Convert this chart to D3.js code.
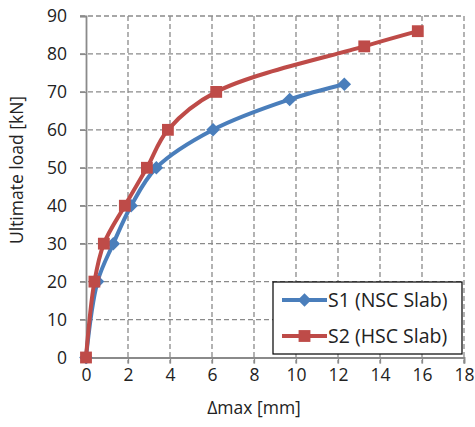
<!DOCTYPE html>
<html>
<head>
<meta charset="utf-8">
<script src="https://cdn.jsdelivr.net/npm/d3@7"></script>
<style>
  body { margin: 0; background: #fff; }
  text { font-family: "Open Sans", "Liberation Sans", sans-serif; fill: #222; }
</style>
</head>
<body>
<div id="chart"></div>
<script>
// data
var seriesNames = ['S1 (NSC Slab)', 'S2 (HSC Slab)'];
var s1Deflection = [0, 0.55, 1.3, 2.15, 3.35, 6.05, 9.7, 12.3];
var s1Load       = [0, 20, 30, 40, 50, 60, 68, 72];
var s2Deflection = [0, 0.4, 0.85, 1.85, 2.9, 3.9, 6.2, 13.25, 15.8];
var s2Load       = [0, 20, 30, 40, 50, 60, 70, 82, 86];
var xTicks = [0, 2, 4, 6, 8, 10, 12, 14, 16, 18];
var yTicks = [0, 10, 20, 30, 40, 50, 60, 70, 80, 90];

var W = 475, H = 427;
var margin = {left: 86, right: 11, top: 16, bottom: 70};
var gridColor = '#8a8a8a';
var fontSize = '17.5px';

var svg = d3.select('#chart').append('svg')
    .attr('width', W).attr('height', H);

var x = d3.scaleLinear().domain([0, 18]).range([margin.left, W - margin.right]);
var y = d3.scaleLinear().domain([0, 90]).range([H - margin.bottom + 0.5, margin.top]);

// dashed grid
svg.append('g').selectAll('line.v')
    .data(xTicks.filter(function(d){ return d > 0; })).enter()
    .append('line')
    .attr('x1', function(d){ return x(d); }).attr('x2', function(d){ return x(d); })
    .attr('y1', y(90)).attr('y2', y(0) + 6)
    .attr('stroke', gridColor).attr('stroke-width', 1.3)
    .attr('stroke-dasharray', '5,3');
svg.append('g').selectAll('line.h')
    .data(yTicks.filter(function(d){ return d > 0; })).enter()
    .append('line')
    .attr('x1', x(0) - 6).attr('x2', x(18))
    .attr('y1', function(d){ return y(d); }).attr('y2', function(d){ return y(d); })
    .attr('stroke', gridColor).attr('stroke-width', 1.3)
    .attr('stroke-dasharray', '5,3');

// axes
var xAxis = svg.append('g')
    .attr('transform', 'translate(0,' + y(0) + ')')
    .call(d3.axisBottom(x).tickValues(xTicks).tickSize(6).tickPadding(17));
var yAxis = svg.append('g')
    .attr('transform', 'translate(' + x(0) + ',0)')
    .call(d3.axisLeft(y).tickValues(yTicks).tickSize(6).tickPadding(13));
[xAxis, yAxis].forEach(function(a){
    a.select('.domain').attr('stroke', gridColor).attr('stroke-width', 1.8);
    a.selectAll('.tick line').attr('stroke', gridColor).attr('stroke-width', 1.3);
    a.selectAll('.tick text').style('font-size', fontSize)
        .style('font-family', '"Open Sans", "Liberation Sans", sans-serif').attr('fill', '#222');
});
xAxis.selectAll('.tick text').attr('dy', '0');

// axis titles
svg.append('text')
    .attr('x', 254).attr('y', 414)
    .attr('text-anchor', 'middle').style('font-size', fontSize)
    .text('Δmax [mm]');
svg.append('text')
    .attr('transform', 'translate(23,170) rotate(-90)')
    .attr('text-anchor', 'middle').style('font-size', fontSize)
    .text('Ultimate load [kN]');

var line = d3.line()
    .x(function(d){ return x(d[0]); })
    .y(function(d){ return y(d[1]); })
    .curve(d3.curveCatmullRom.alpha(0.5));

var series = [
    {name: seriesNames[0], color: '#4a7ebb', rot: 45, size: 92,
     pts: d3.zip(s1Deflection, s1Load)},
    {name: seriesNames[1], color: '#be4b48', rot: 0, size: 140,
     pts: d3.zip(s2Deflection, s2Load)}
];
var marker = function(s){ return d3.symbol().type(d3.symbolSquare).size(s.size)(); };

series.forEach(function(s){
    svg.append('path')
        .datum(s.pts)
        .attr('d', line)
        .attr('fill', 'none')
        .attr('stroke', s.color)
        .attr('stroke-width', 4)
        .attr('stroke-linejoin', 'round');
    svg.append('g').selectAll('path')
        .data(s.pts).enter()
        .append('path')
        .attr('transform', function(d){
            return 'translate(' + x(d[0]) + ',' + y(d[1]) + ') rotate(' + s.rot + ')';
        })
        .attr('d', marker(s))
        .attr('fill', s.color);
});

// legend
var lg = svg.append('g').attr('transform', 'translate(273,282)');
lg.append('rect')
    .attr('x', 0).attr('y', 0).attr('width', 189).attr('height', 72)
    .attr('fill', '#fff').attr('stroke', '#000').attr('stroke-width', 1.2);
series.forEach(function(s, i){
    var cy = 18 + i * 36;
    lg.append('line')
        .attr('x1', 9).attr('x2', 54).attr('y1', cy).attr('y2', cy)
        .attr('stroke', s.color).attr('stroke-width', 4);
    lg.append('path')
        .attr('transform', 'translate(31.5,' + cy + ') rotate(' + s.rot + ')')
        .attr('d', marker(s))
        .attr('fill', s.color);
    lg.append('text')
        .attr('x', 55).attr('y', cy).attr('dy', '0.35em')
        .style('font-size', '19.5px')
        .text(s.name);
});
</script>
</body>
</html>
